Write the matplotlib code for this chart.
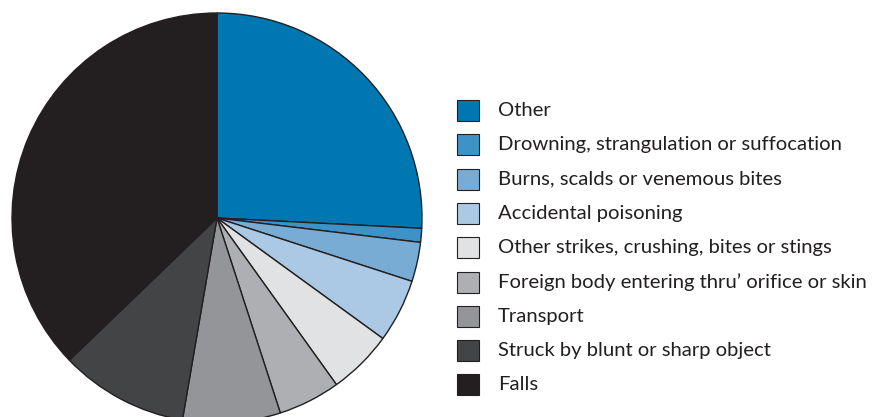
import matplotlib.pyplot as plt
from matplotlib.patches import Rectangle

# Share of injuries by cause (percent), clockwise from 12 o'clock
categories = [
    "Other",
    "Drowning, strangulation or suffocation",
    "Burns, scalds or venemous bites",
    "Accidental poisoning",
    "Other strikes, crushing, bites or stings",
    "Foreign body entering thru\u2019 orifice or skin",
    "Transport",
    "Struck by blunt or sharp object",
    "Falls",
]
shares = [25.8, 1.1, 3.1, 5.0, 5.1, 4.9, 7.7, 10.1, 37.2]
colors = ["#0077b0", "#3e93c6", "#79acd5", "#abc9e5", "#e1e2e4",
          "#aeafb2", "#939598", "#424446", "#231f20"]

W, H = 888, 417
fig = plt.figure(figsize=(W / 100, H / 100), dpi=100)

# pie: centre (217, 218) px, radius 205 px
cx, cy, r = 217, 218, 205
ax = fig.add_axes([(cx - r) / W, (H - cy - r) / H, 2 * r / W, 2 * r / H])
ax.pie(shares, colors=colors, startangle=90, counterclock=False,
       wedgeprops=dict(edgecolor="#231f20", linewidth=1.0))
ax.set_xlim(-1, 1)
ax.set_ylim(-1, 1)
ax.set_aspect("equal")
ax.axis("off")

# legend drawn by hand
y0, step = 110.5, 34.3
for i, (lab, col) in enumerate(zip(categories, colors)):
    yc = y0 + i * step
    fig.add_artist(Rectangle((457 / W, (H - yc - 10.5) / H), 22 / W, 21 / H,
                             transform=fig.transFigure, facecolor=col,
                             edgecolor="#231f20", linewidth=0.8))
    fig.text(498 / W, (H - yc) / H, lab, fontsize=14.6, family="Lato",
             color="#231f20", va="center", ha="left")

fig.savefig("out.png", dpi=100)
